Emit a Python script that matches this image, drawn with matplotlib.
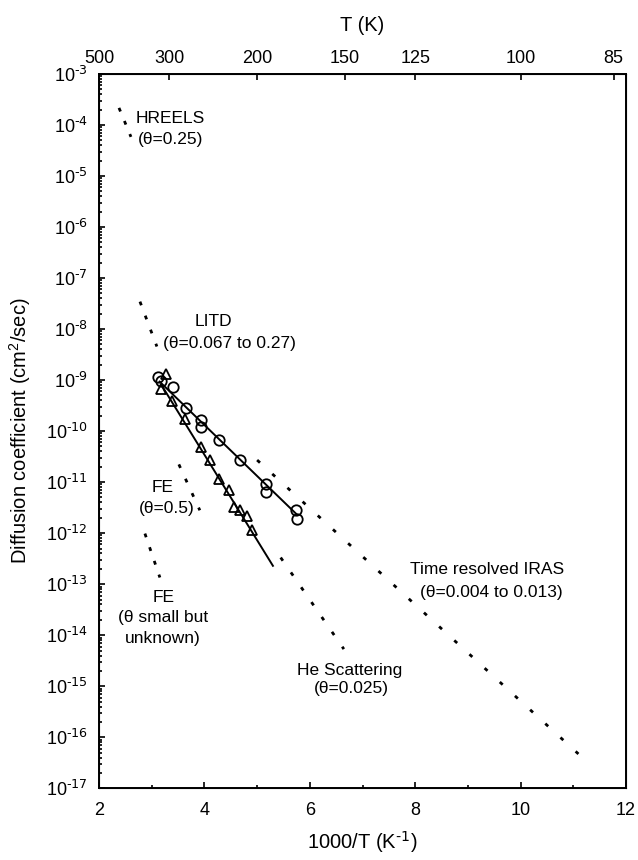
import numpy as np
import matplotlib
matplotlib.use("Agg")
import matplotlib.pyplot as plt
from matplotlib.ticker import LogLocator, MultipleLocator, NullFormatter, FuncFormatter

plt.rcParams['font.family'] = ['Liberation Sans', 'DejaVu Sans']
plt.rcParams['mathtext.default'] = 'regular'
plt.rcParams['axes.unicode_minus'] = False
plt.rcParams['font.size'] = 12

# measured points (1000/T, D in cm^2/s)
circ_x = [3.12, 3.17, 3.40, 3.65, 3.93, 3.93, 4.27, 4.67, 5.16, 5.16, 5.74, 5.76]
circ_d = [1.15e-9, 9.5e-10, 7.4e-10, 2.9e-10, 1.64e-10, 1.22e-10,
          6.7e-11, 2.67e-11, 9.1e-12, 6.4e-12, 2.84e-12, 1.93e-12]
tri_x = [3.28, 3.17, 3.39, 3.64, 3.93, 4.10, 4.27, 4.47, 4.56, 4.67, 4.80, 4.90]
tri_d = [1.29e-9, 6.8e-10, 3.9e-10, 1.7e-10, 4.8e-11, 2.73e-11,
         1.13e-11, 6.9e-12, 3.26e-12, 2.84e-12, 2.17e-12, 1.16e-12]

# fitted Arrhenius lines through the LITD points
circ_fit_x = [3.15, 5.75]
circ_fit_d = [10 ** -9.03, 10 ** -11.63]
tri_fit_x = [3.19, 5.30]
tri_fit_d = [10 ** -9.105, 10 ** -12.64]

# literature results (dotted)
hreels_x = [2.379, 2.606]
hreels_d = [10 ** -3.665, 10 ** -4.233]
litd_x = [2.777, 3.098]
litd_d = [10 ** -7.462, 10 ** -8.342]
fe05_x = [3.515, 3.913]
fe05_d = [10 ** -10.652, 10 ** -11.552]
fesmall_x = [2.871, 3.155]
fesmall_d = [10 ** -12.008, 10 ** -12.869]
he_x = [5.447, 6.646]
he_d = [10 ** -12.478, 10 ** -14.272]
iras_x = [5.0, 11.097]
iras_d = [10 ** -10.567, 10 ** -16.327]

T_ticks = [500, 300, 200, 150, 125, 100, 85]

fig = plt.figure(figsize=(6.38, 8.6), dpi=100)
ax = fig.add_axes([0.1552, 0.0834, 0.826, 0.8306])


def dotted(x, y, gap):
    ax.plot(x, y, color='black', lw=2.0, linestyle=(0, (1.4, gap)),
            dash_capstyle='butt')


dotted(hreels_x, hreels_d, 3.7)
dotted(litd_x, litd_d, 4.0)
dotted(fe05_x, fe05_d, 4.3)
dotted(fesmall_x, fesmall_d, 3.8)
dotted(he_x, he_d, 5.1)
dotted(iras_x, iras_d, 6.0)

ax.plot(circ_fit_x, circ_fit_d, color='black', lw=1.4)
ax.plot(tri_fit_x, tri_fit_d, color='black', lw=1.4)
ax.plot(circ_x, circ_d, 'o', mfc='none', mec='black', ms=7.5, mew=1.3)
ax.plot(tri_x, tri_d, '^', mfc='none', mec='black', ms=7.0, mew=1.3)

ax.set_yscale('log')
ax.set_xlim(2, 12)
ax.set_ylim(1e-17, 1e-3)
ax.xaxis.set_major_locator(MultipleLocator(2))
ax.xaxis.set_minor_locator(MultipleLocator(1))
ax.yaxis.set_major_locator(LogLocator(base=10, numticks=20))
ax.yaxis.set_minor_locator(LogLocator(base=10, subs=np.arange(2, 10), numticks=20))
ax.yaxis.set_major_formatter(FuncFormatter(
    lambda v, p: r'10$^{\text{-%d}}$' % round(-np.log10(v))))
ax.yaxis.set_minor_formatter(NullFormatter())
ax.tick_params(which='both', direction='in', top=False, right=False, width=1.2)
ax.tick_params(which='major', length=4.5, labelsize=13)
ax.tick_params(which='minor', length=2.2)
ax.tick_params(axis='x', pad=10)
ax.tick_params(axis='y', pad=8)
for s in ax.spines.values():
    s.set_linewidth(1.4)

ax.set_xlabel('1000/T (K$^{\\text{-1}}$)', fontsize=14.5, labelpad=7)
ax.set_ylabel('Diffusion coefficient (cm$^2$/sec)', fontsize=14.5, labelpad=9)

ax2 = ax.twiny()
ax2.set_xlim(2, 12)
ax2.set_xticks([1000 / t for t in T_ticks])
ax2.set_xticklabels([str(t) for t in T_ticks])
ax2.tick_params(direction='in', length=4.5, width=1.2, labelsize=13, pad=5)
ax2.set_xlabel('T (K)', fontsize=14.5, labelpad=14)

kw = dict(ha='center', va='center', fontsize=12.5)
ax.text(3.35, 1.37e-4, 'HREELS', **kw)
ax.text(3.35, 5.1e-5, '(θ=0.25)', **kw)
ax.text(4.163, 1.38e-8, 'LITD', **kw)
ax.text(4.467, 5.1e-9, '(θ=0.067 to 0.27)', **kw)
ax.text(3.205, 7.7e-12, 'FE', **kw)
ax.text(3.29, 3.1e-12, '(θ=0.5)', **kw)
ax.text(3.233, 5.6e-14, 'FE', **kw)
ax.text(3.214, 2.27e-14, '(θ small but', **kw)
ax.text(3.214, 8.8e-15, 'unknown)', **kw)
ax.text(6.763, 2.0e-15, 'He Scattering', **kw)
ax.text(6.782, 9.2e-16, '(θ=0.025)', **kw)
ax.text(9.362, 1.9e-13, 'Time resolved IRAS', **kw)
ax.text(9.438, 6.8e-14, '(θ=0.004 to 0.013)', **kw)

fig.savefig('out.png', dpi=100)
